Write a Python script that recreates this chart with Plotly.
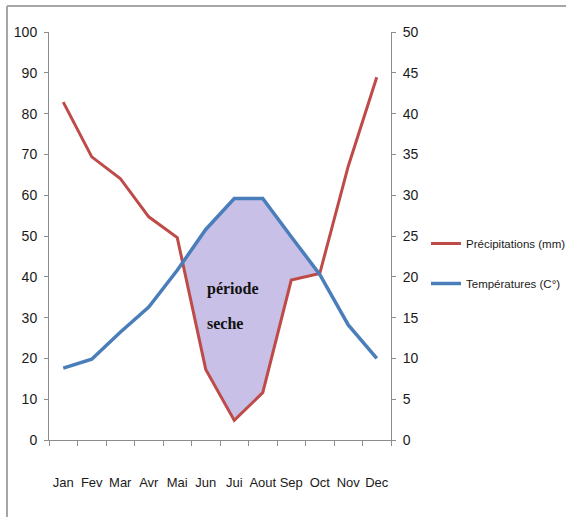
import plotly.graph_objects as go

# Climate diagram data
months = ["Jan", "Fev", "Mar", "Avr", "Mai", "Jun", "Jui", "Aout", "Sep", "Oct", "Nov", "Dec"]
precipitations = [82.8, 69.4, 64.1, 54.7, 49.6, 17.3, 4.8, 11.6, 39.2, 40.8, 67.1, 88.9]
temperatures = [8.8, 9.9, 13.2, 16.3, 20.8, 25.8, 29.6, 29.6, 24.9, 20.3, 14.1, 10.0]
left_ticks = list(range(0, 101, 10))
right_ticks = list(range(0, 51, 5))

W, H = 566, 517
ML, MR, MT, MB = 49, 175, 32, 77

xs = list(range(len(months)))
temp2 = [2 * t for t in temperatures]  # temperature on the precipitation scale (P = 2T)

# Dry period polygon: where precipitation falls below 2*T
diff = [p - t for p, t in zip(precipitations, temp2)]
upper, lower = [], []
for i in range(len(xs)):
    if diff[i] < 0:
        upper.append((xs[i], temp2[i]))
        lower.append((xs[i], precipitations[i]))
    if i + 1 < len(xs) and (diff[i] < 0) != (diff[i + 1] < 0):
        f = diff[i] / (diff[i] - diff[i + 1])
        xc = xs[i] + f
        yc = precipitations[i] + f * (precipitations[i + 1] - precipitations[i])
        upper.append((xc, yc))
        lower.append((xc, yc))
poly = upper + lower[::-1]

fig = go.Figure()
fig.add_trace(go.Scatter(
    x=[p[0] for p in poly], y=[p[1] for p in poly],
    fill="toself", fillcolor="rgb(200,192,230)", mode="none",
    showlegend=False, hoverinfo="skip"))
fig.add_trace(go.Scatter(
    x=xs, y=precipitations, mode="lines", name="Précipitations (mm)",
    line=dict(color="#be4b48", width=3), legendgroup="p"))
fig.add_trace(go.Scatter(
    x=xs, y=temperatures, mode="lines", name="Températures (C°)",
    line=dict(color="#4a7ebb", width=3.5), yaxis="y2", legendgroup="t"))

sans = "Liberation Sans, Arial, sans-serif"
axis_col = "#8c8c8c"

for txt, yv in [("période", 37.0), ("seche", 28.6)]:
    fig.add_annotation(x=4.97, y=yv, text="<b>" + txt + "</b>", showarrow=False,
                       xanchor="left", yanchor="middle",
                       font=dict(family="Liberation Serif, serif", size=16, color="#111"))

def px_x(px):
    return (px - ML) / (W - ML - MR)

def px_y(py):
    return (H - MB - py) / (H - MT - MB)

# Outer frame (top and left edges)
fig.add_shape(type="line", xref="paper", yref="paper", x0=px_x(7), x1=px_x(W + 5),
              y0=px_y(6), y1=px_y(6), line=dict(color="#a6a6a6", width=2))
fig.add_shape(type="line", xref="paper", yref="paper", x0=px_x(7), x1=px_x(7),
              y0=px_y(6), y1=px_y(H + 5), line=dict(color="#a6a6a6", width=2))

fig.update_layout(
    width=W, height=H,
    margin=dict(l=ML, r=MR, t=MT, b=MB, autoexpand=False),
    paper_bgcolor="white", plot_bgcolor="white",
    font=dict(family=sans, size=14, color="#1a1a1a"),
    xaxis=dict(
        range=[-0.5, len(months) - 0.5], tickmode="array", tickvals=xs, ticktext=months,
        ticks="", showgrid=False, zeroline=False, showline=True, tickangle=0,
        linecolor=axis_col, linewidth=1, ticklabelstandoff=30, automargin=False,
        minor=dict(ticks="outside", tick0=-0.5, dtick=1, ticklen=5, tickcolor=axis_col,
                   showgrid=False),
        tickfont=dict(size=13)),
    yaxis=dict(
        range=[0, 100], tickmode="array", tickvals=left_ticks, showgrid=False,
        zeroline=False, showline=True, linecolor=axis_col, linewidth=1, automargin=False,
        ticks="outside", ticklen=4, tickcolor=axis_col, ticklabelstandoff=4),
    yaxis2=dict(
        range=[0, 50], tickmode="array", tickvals=right_ticks, overlaying="y",
        side="right", showgrid=False, zeroline=False, showline=True, automargin=False,
        linecolor=axis_col, linewidth=1, ticks="outside", ticklen=4,
        tickcolor=axis_col, ticklabelstandoff=4),
    legend=dict(
        x=px_x(426), xanchor="left", y=px_y(229), yanchor="top",
        font=dict(family=sans, size=11.5, color="#1a1a1a"),
        tracegroupgap=21, bgcolor="rgba(0,0,0,0)", itemwidth=30),
)

fig.write_html("out.html")
